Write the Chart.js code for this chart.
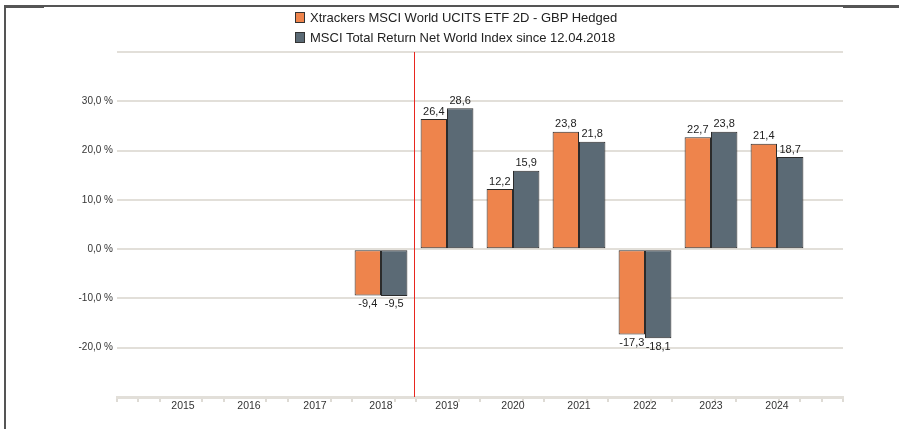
<!DOCTYPE html>
<html>
<head>
<meta charset="utf-8">
<script src="https://cdn.jsdelivr.net/npm/chart.js@4.4.1/dist/chart.umd.min.js"></script>
<style>
  body { margin: 0; background: #fff; font-family: "Liberation Sans", Arial, sans-serif; }
  #wrap { position: relative; width: 899px; height: 429px; overflow: hidden; }
  #frame { position: absolute; left: 4px; top: 5px; right: -5px; bottom: -5px; border-top: 2px solid #555; border-left: 2px solid #555; }
  .thick { position: absolute; top: 5px; height: 3px; background: #555; }
  #legend { position: absolute; left: 295px; top: 9px; font-size: 13px; color: #222; }
  .item { height: 20px; line-height: 17px; white-space: nowrap; }
  .box { display: inline-block; width: 8px; height: 9px; border: 1px solid #333; vertical-align: -1px; margin-right: 5px; }
</style>
</head>
<body>
<div id="wrap">
  <canvas id="chart" width="899" height="429"></canvas>
  <div id="frame"></div>
  <div class="thick" style="left:4px;width:40px"></div>
  <div class="thick" style="left:843px;width:56px"></div>
  <div id="legend"></div>
</div>
<script>
const years = ['', '2015', '2016', '2017', '2018', '2019', '2020', '2021', '2022', '2023', '2024', ''];
const etfValues = [null, null, null, null, -9.4, 26.4, 12.2, 23.8, -17.3, 22.7, 21.4, null];
const indexValues = [null, null, null, null, -9.5, 28.6, 15.9, 21.8, -18.1, 23.8, 18.7, null];
const seriesNames = ['Xtrackers MSCI World UCITS ETF 2D - GBP Hedged', 'MSCI Total Return Net World Index since 12.04.2018'];
const seriesColors = ['#ee844c', '#5b6a75'];

function fmt(v) {
  return v.toFixed(1).replace('.', ',');
}

// html legend, stacked like the original
const legend = document.getElementById('legend');
seriesNames.forEach((name, i) => {
  const row = document.createElement('div');
  row.className = 'item';
  row.innerHTML = `<span class="box" style="background:${seriesColors[i]}"></span>${name}`;
  legend.appendChild(row);
});

const valueLabels = {
  id: 'valueLabels',
  afterDatasetsDraw(chart) {
    const ctx = chart.ctx;
    ctx.save();
    ctx.font = '11px "Liberation Sans", Arial, sans-serif';
    ctx.fillStyle = '#222';
    ctx.textAlign = 'center';
    chart.data.datasets.forEach((ds, di) => {
      chart.getDatasetMeta(di).data.forEach((bar, i) => {
        const v = ds.data[i];
        if (v === null) return;
        if (v >= 0) {
          ctx.textBaseline = 'bottom';
          ctx.fillText(fmt(v), bar.x, bar.y - 2);
        } else {
          ctx.textBaseline = 'top';
          ctx.fillText(fmt(v), bar.x, bar.y + 3);
        }
      });
    });
    ctx.restore();
  }
};

const markerLine = {
  id: 'markerLine',
  afterDraw(chart) {
    const x = chart.scales.x;
    const area = chart.chartArea;
    const px = Math.round((x.getPixelForValue(4) + x.getPixelForValue(5)) / 2) + 0.5;
    const ctx = chart.ctx;
    ctx.save();
    ctx.strokeStyle = '#e8261f';
    ctx.lineWidth = 1;
    ctx.beginPath();
    ctx.moveTo(px, area.top);
    ctx.lineTo(px, area.bottom);
    ctx.stroke();
    ctx.restore();
  }
};

new Chart(document.getElementById('chart'), {
  type: 'bar',
  data: {
    labels: years,
    datasets: [
      { label: seriesNames[0], data: etfValues, backgroundColor: seriesColors[0], borderColor: '#2b2b2b', borderWidth: 1, borderSkipped: false },
      { label: seriesNames[1], data: indexValues, backgroundColor: seriesColors[1], borderColor: '#2b2b2b', borderWidth: 1, borderSkipped: false }
    ]
  },
  options: {
    responsive: false,
    animation: false,
    layout: { padding: { left: 0, top: 52, right: 56, bottom: 0 } },
    datasets: { bar: { categoryPercentage: 0.8, barPercentage: 1 } },
    plugins: { legend: { display: false }, tooltip: { enabled: false } },
    scales: {
      x: {
        offset: false,
        grid: { display: false, drawTicks: false },
        border: { display: true, color: '#e2dfd9', width: 3 },
        ticks: { color: '#333', font: { size: 10.5, family: '"Liberation Sans", Arial' }, padding: 3, autoSkip: false, maxRotation: 0 },
        afterFit: s => { s.height = 32; }
      },
      minor: {
        type: 'linear',
        axis: 'x',
        position: { y: -30 },
        min: 0,
        max: 11,
        ticks: { display: false, stepSize: 1 / 3, autoSkip: false },
        border: { display: false },
        grid: {
          drawOnChartArea: false,
          drawTicks: true,
          tickLength: 5,
          lineWidth: 2,
          color: c => {
            const v = c.tick ? c.tick.value : 0;
            const whole = Math.abs(v - Math.round(v)) < 0.01;
            return (whole && v > 0.5 && v < 10.5) ? 'rgba(0,0,0,0)' : '#dedbd5';
          }
        }
      },
      y: {
        min: -30,
        max: 40,
        ticks: {
          stepSize: 10,
          color: '#333',
          font: { size: 10, family: '"Liberation Sans", Arial' },
          padding: 4,
          callback: v => (v === 40 || v === -30) ? '' : fmt(v) + ' %'
        },
        grid: { color: '#e2dfd9', lineWidth: 2, drawTicks: false },
        border: { display: false },
        afterFit: s => { s.width = 117; }
      }
    }
  },
  plugins: [valueLabels, markerLine]
});
</script>
</body>
</html>
